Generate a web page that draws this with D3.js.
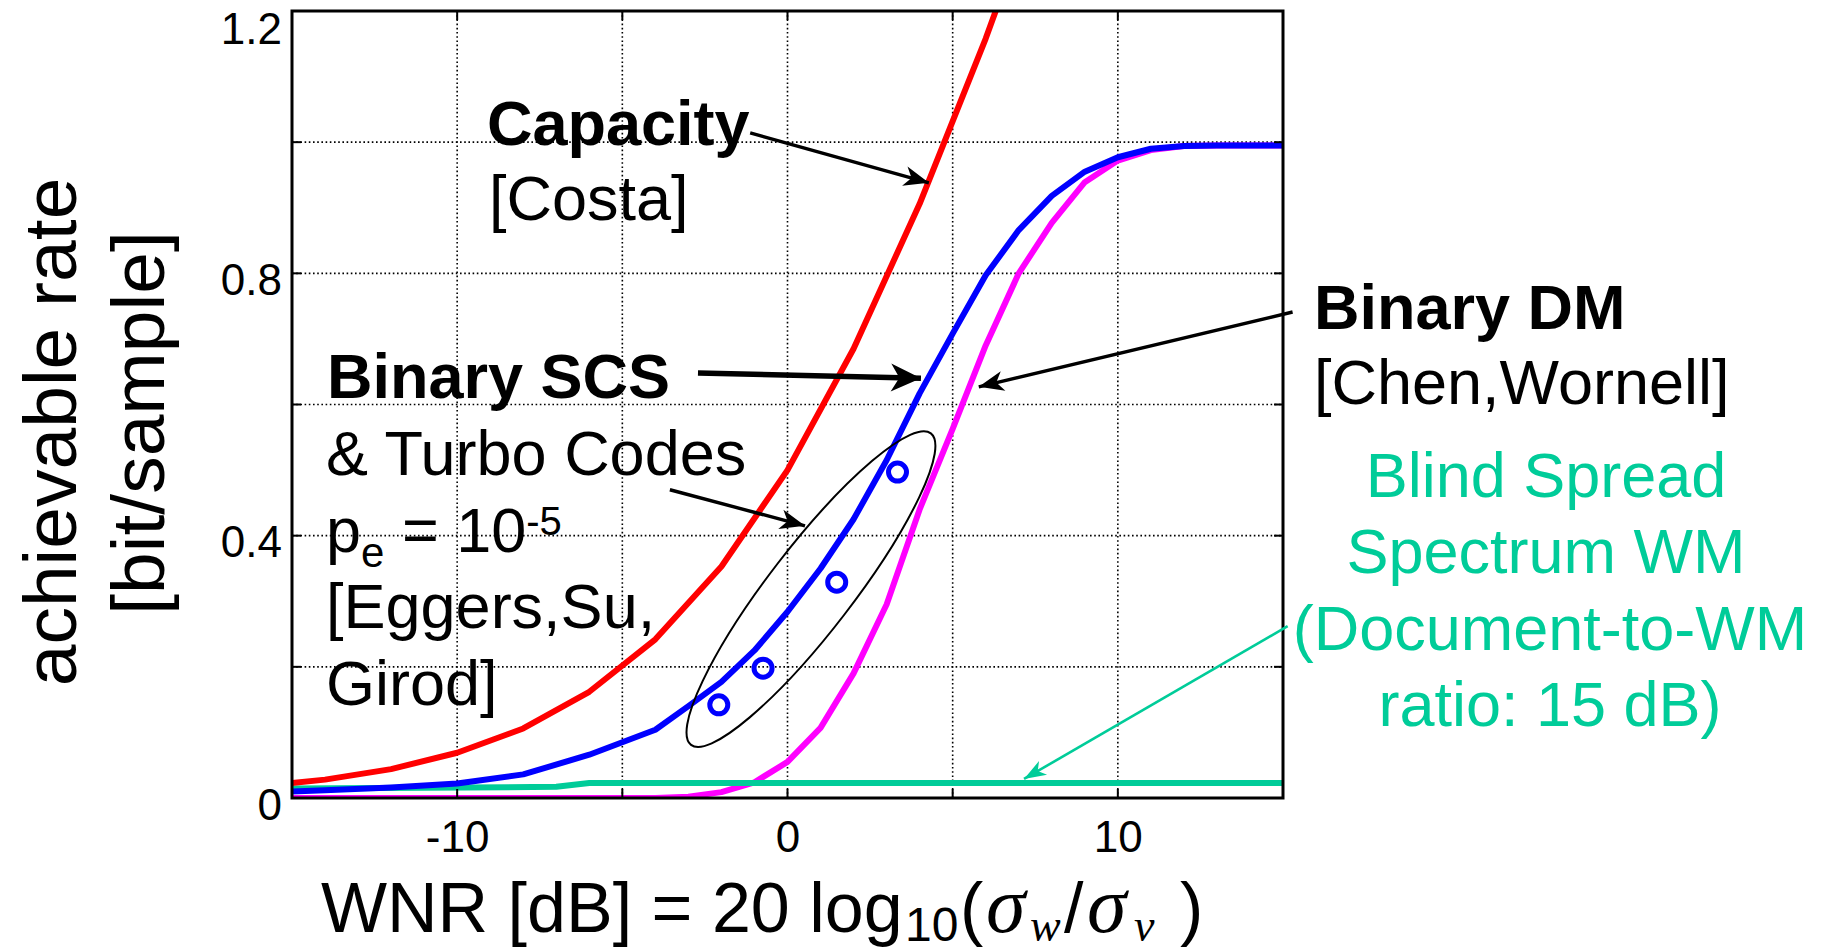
<!DOCTYPE html>
<html>
<head>
<meta charset="utf-8">
<script src="https://cdn.jsdelivr.net/npm/d3@7"></script>
<style>
  body { margin: 0; background: #fff; }
  svg { display: block; font-family: "Liberation Sans", Arial, sans-serif; }
</style>
</head>
<body>
<svg id="chart" width="1829" height="952"></svg>
<script>

// Capacity [Costa]
const wnrCapacity  = [-16, -14, -12, -10, -8, -6, -4, -2, 0, 2, 4, 6, 8];
const rateCapacity = [0.018, 0.028, 0.044, 0.069, 0.106, 0.162, 0.242, 0.353, 0.5, 0.685, 0.906, 1.158, 1.435];

// Binary SCS
const wnrScs  = [-16, -15, -14, -12, -10, -8, -6, -4, -3, -2, -1, 0, 1, 2, 3, 4, 5, 6, 7, 8, 9, 10, 11, 12, 13, 16];
const rateScs = [0.009, 0.010, 0.012, 0.016, 0.022, 0.036, 0.066, 0.104, 0.14, 0.177, 0.225, 0.284, 0.350, 0.425, 0.515, 0.617, 0.708, 0.797, 0.866, 0.918, 0.955, 0.977, 0.990, 0.994, 0.995, 0.995];

// Binary DM
const wnrDm  = [-16, -4, -3, -2, -1, 0, 1, 2, 3, 4, 5, 6, 7, 8, 9, 10, 11, 12, 13, 16];
const rateDm = [0, 0, 0.002, 0.009, 0.024, 0.055, 0.107, 0.190, 0.295, 0.44, 0.563, 0.69, 0.80, 0.877, 0.939, 0.972, 0.988, 0.994, 0.995, 0.995];

// Blind spread spectrum
const wnrSs  = [-16, -7, -6, 16];
const rateSs = [0.014, 0.017, 0.023, 0.023];

// SCS & turbo codes points
const wnrTurbo  = [-2.08, -0.74, 1.49, 3.33];
const rateTurbo = [0.142, 0.198, 0.329, 0.497];

// ticks
const xGridTicks  = [-10, -5, 0, 5, 10];
const yGridTicks  = [0.2, 0.4, 0.6, 0.8, 1.0];
const xLabelTicks = [-10, 0, 10];
const yLabelTicks = [0, 0.4, 0.8, 1.2];

const green = "#00cc99";

function zip(xs, ys) { return xs.map((v, i) => ({wnr: v, rate: ys[i]})); }

let chart = d3.select("#chart");
let plotLeft = 292, plotRight = 1283, plotTop = 11, plotBottom = 798;

// scales
let x = d3.scaleLinear().domain([-15, 15]).range([plotLeft, plotRight]);
let y = d3.scaleLinear().domain([0, 1.2]).range([plotBottom, plotTop]);

let defs = chart.append("defs");
defs.append("clipPath").attr("id", "plotclip")
    .append("rect")
        .attr("x", plotLeft).attr("y", plotTop)
        .attr("width", plotRight - plotLeft).attr("height", plotBottom - plotTop);

// arrow heads
function arrowHead(id, len, hw, color) {
    defs.append("marker")
        .attr("id", id)
        .attr("markerUnits", "userSpaceOnUse")
        .attr("viewBox", `${-len - 2} ${-hw - 2} ${len + 4} ${2 * hw + 4}`)
        .attr("refX", 0).attr("refY", 0)
        .attr("markerWidth", len + 4).attr("markerHeight", 2 * hw + 4)
        .attr("orient", "auto")
        .append("path")
            .attr("d", `M0,0 L${-len},${-hw} L${-len * 0.72},0 L${-len},${hw} Z`)
            .attr("fill", color);
}
arrowHead("headSmall", 25, 10, "#000");
arrowHead("headBig", 30, 14, "#000");
arrowHead("headGreen", 22, 8, green);

// grid
chart.append("g").selectAll("line")
    .data(xGridTicks).enter()
        .append("line")
            .attr("x1", d => x(d)).attr("x2", d => x(d))
            .attr("y1", plotBottom).attr("y2", plotTop)
            .attr("stroke", "#000").attr("stroke-width", 1.6)
            .attr("stroke-dasharray", "1.6,2.6");
chart.append("g").selectAll("line")
    .data(yGridTicks).enter()
        .append("line")
            .attr("y1", d => y(d)).attr("y2", d => y(d))
            .attr("x1", plotLeft).attr("x2", plotRight)
            .attr("stroke", "#000").attr("stroke-width", 1.6)
            .attr("stroke-dasharray", "1.6,2.6");

// curves
let line = d3.line().x(d => x(d.wnr)).y(d => y(d.rate));
let curves = chart.append("g").attr("clip-path", "url(#plotclip)");
[
    [wnrDm, rateDm, "#ff00ff"],
    [wnrSs, rateSs, green],
    [wnrCapacity, rateCapacity, "#ff0000"],
    [wnrScs, rateScs, "#0000ff"]
].forEach(function (c) {
    curves.append("path")
        .datum(zip(c[0], c[1]))
        .attr("d", line)
        .attr("fill", "none")
        .attr("stroke", c[2])
        .attr("stroke-width", 6)
        .attr("stroke-linejoin", "round");
});

// axes box + inner ticks
chart.append("rect")
    .attr("x", plotLeft).attr("y", plotTop)
    .attr("width", plotRight - plotLeft).attr("height", plotBottom - plotTop)
    .attr("fill", "none").attr("stroke", "#000").attr("stroke-width", 3);
let tickLen = 9;
let ticks = chart.append("g").attr("stroke", "#000").attr("stroke-width", 2);
xGridTicks.forEach(function (d) {
    ticks.append("line").attr("x1", x(d)).attr("x2", x(d)).attr("y1", plotBottom).attr("y2", plotBottom - tickLen);
    ticks.append("line").attr("x1", x(d)).attr("x2", x(d)).attr("y1", plotTop).attr("y2", plotTop + tickLen);
});
yGridTicks.forEach(function (d) {
    ticks.append("line").attr("y1", y(d)).attr("y2", y(d)).attr("x1", plotLeft).attr("x2", plotLeft + tickLen);
    ticks.append("line").attr("y1", y(d)).attr("y2", y(d)).attr("x1", plotRight).attr("x2", plotRight - tickLen);
});

// tick labels
let xAxis = d3.axisBottom(x).tickValues(xLabelTicks).tickSize(0).tickPadding(23).tickFormat(d => String(d));
chart.append("g")
    .attr("transform", "translate(0," + plotBottom + ")")
    .call(xAxis)
    .call(g => g.select(".domain").remove())
    .selectAll("text")
        .attr("font-size", 44)
        .attr("font-family", "Liberation Sans, Arial, sans-serif")
        .attr("fill", "#000");

let yAxis = d3.axisLeft(y).tickValues(yLabelTicks).tickSize(0).tickPadding(10).tickFormat(d => d === 0 ? "0" : d3.format(".1f")(d));
chart.append("g")
    .attr("transform", "translate(" + plotLeft + ",0)")
    .call(yAxis)
    .call(g => g.select(".domain").remove())
    .selectAll("text")
        .attr("font-size", 44)
        .attr("font-family", "Liberation Sans, Arial, sans-serif")
        .attr("fill", "#000")
        .attr("dy", d => d === 1.2 ? "0.73em" : "0.48em");

// axis labels
let serif = "Liberation Serif, Times New Roman, serif";
let xLabel = chart.append("text")
    .attr("x", 321).attr("y", 932)
    .attr("font-size", 70);
xLabel.append("tspan").text("WNR [dB] = 20 log");
xLabel.append("tspan").attr("x", 905).attr("y", 941).attr("font-size", 48).text("10");
xLabel.append("tspan").attr("x", 960).attr("y", 932).text("(");
xLabel.append("tspan").attr("x", 986).attr("y", 932).attr("font-family", serif).attr("font-style", "italic").attr("font-size", 80).text("σ");
xLabel.append("tspan").attr("x", 1030).attr("y", 941).attr("font-family", serif).attr("font-style", "italic").attr("font-size", 46).text("w");
xLabel.append("tspan").attr("x", 1064).attr("y", 932).text("/");
xLabel.append("tspan").attr("x", 1087).attr("y", 932).attr("font-family", serif).attr("font-style", "italic").attr("font-size", 80).text("σ");
xLabel.append("tspan").attr("x", 1134).attr("y", 941).attr("font-family", serif).attr("font-style", "italic").attr("font-size", 46).text("v");
xLabel.append("tspan").attr("x", 1180).attr("y", 932).text(")");

chart.append("text")
    .text("achievable rate")
    .attr("transform", "translate(76,432) rotate(-90)")
    .attr("text-anchor", "middle")
    .attr("font-size", 75);
chart.append("text")
    .text("[bit/sample]")
    .attr("transform", "translate(164,423) rotate(-90)")
    .attr("text-anchor", "middle")
    .attr("font-size", 75);

// SCS + turbo code points and ellipse
chart.append("g").selectAll("circle")
    .data(zip(wnrTurbo, rateTurbo)).enter()
        .append("circle")
            .attr("cx", d => x(d.wnr))
            .attr("cy", d => y(d.rate))
            .attr("r", 9)
            .attr("fill", "none")
            .attr("stroke", "#0000ff")
            .attr("stroke-width", 5);

let ellipseEnds = [[-2.92, 0.081], [4.34, 0.556]];
let ex1 = x(ellipseEnds[0][0]), ey1 = y(ellipseEnds[0][1]);
let ex2 = x(ellipseEnds[1][0]), ey2 = y(ellipseEnds[1][1]);
let eAngle = Math.atan2(ey2 - ey1, ex2 - ex1) * 180 / Math.PI;
chart.append("ellipse")
    .attr("transform", `translate(${(ex1 + ex2) / 2},${(ey1 + ey2) / 2}) rotate(${eAngle})`)
    .attr("rx", Math.hypot(ex2 - ex1, ey2 - ey1) / 2)
    .attr("ry", 42)
    .attr("fill", "none")
    .attr("stroke", "#000")
    .attr("stroke-width", 2);

// annotation arrows (data coordinates)
let arrows = [
    {from: [-1.13, 1.014], to: [4.28, 0.938], w: 3.4, head: "headSmall", color: "#000"},
    {from: [-2.71, 0.648], to: [4.04, 0.640], w: 5.5, head: "headBig", color: "#000"},
    {from: [-3.56, 0.470], to: [0.53, 0.415], w: 3.4, head: "headSmall", color: "#000"},
    {from: [15.29, 0.741], to: [5.79, 0.627], w: 3.4, head: "headSmall", color: "#000"},
    {from: [15.14, 0.262], to: [7.16, 0.029], w: 2.6, head: "headGreen", color: green}
];
chart.append("g").selectAll("line")
    .data(arrows).enter()
        .append("line")
            .attr("x1", d => x(d.from[0])).attr("y1", d => y(d.from[1]))
            .attr("x2", d => x(d.to[0])).attr("y2", d => y(d.to[1]))
            .attr("stroke", d => d.color)
            .attr("stroke-width", d => d.w)
            .attr("marker-end", d => "url(#" + d.head + ")");

// annotation texts
function label(txt, px, py, bold, color, anchor) {
    return chart.append("text")
        .text(txt)
        .attr("x", px).attr("y", py)
        .attr("font-size", 63)
        .attr("font-weight", bold ? 700 : 400)
        .attr("fill", color || "#000")
        .attr("text-anchor", anchor || "start");
}
label("Capacity", 487, 145, true);
label("[Costa]", 489, 220, false);
label("Binary SCS", 327, 398, true);
label("& Turbo Codes", 326, 475, false);
let pe = label("p", 326, 552, false);
pe.append("tspan").attr("font-size", 42).attr("dy", 15).text("e");
pe.append("tspan").attr("dy", -15).text(" = 10");
pe.append("tspan").attr("font-size", 40).attr("dy", -17).text("-5");
label("[Eggers,Su,", 326, 628, false);
label("Girod]", 326, 705, false);
label("Binary DM", 1314, 329, true);
label("[Chen,Wornell]", 1314, 404, false);
label("Blind Spread", 1546, 497, false, green, "middle");
label("Spectrum WM", 1546, 573, false, green, "middle");
label("(Document-to-WM", 1550, 650, false, green, "middle");
label("ratio: 15 dB)", 1550, 726, false, green, "middle");

</script>
</body>
</html>
